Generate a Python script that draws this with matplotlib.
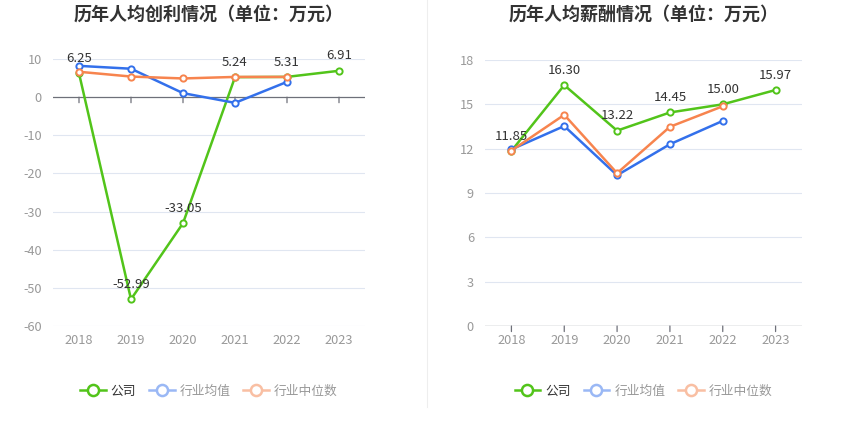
import matplotlib
matplotlib.use("Agg")
import matplotlib.pyplot as plt
from matplotlib.lines import Line2D

plt.rcParams['font.family'] = ['Noto Sans CJK SC', 'DejaVu Sans']
plt.rcParams['axes.unicode_minus'] = False

years = ['2018', '2019', '2020', '2021', '2022', '2023']

# 历年人均创利
profit_company = [6.25, -52.99, -33.05, 5.24, 5.31, 6.91]
profit_mean = [8.2, 7.45, 1.05, -1.5, 4.0]
profit_median = [6.65, 5.4, 4.9, 5.3, 5.3]

# 历年人均薪酬
salary_company = [11.85, 16.30, 13.22, 14.45, 15.00, 15.97]
salary_mean = [11.95, 13.53, 10.2, 12.3, 13.88]
salary_median = [11.87, 14.29, 10.34, 13.48, 14.87]

series_names = ['公司', '行业均值', '行业中位数']
GREEN = '#52c41a'
BLUE = '#3370eb'
ORANGE = '#f7844e'
LEG_COLORS = [GREEN, '#9ab8f5', '#f9bfa3']
LEG_TEXT = ['#333333', '#999999', '#999999']
GRID = '#e0e6f1'
AXIS = '#6e7079'

fig = plt.figure(figsize=(8.5, 4.36), dpi=100)
fig.patch.set_facecolor('white')


def draw(rect, title, company, mean, median, ylim, yticks):
    ax = fig.add_axes(rect)
    x = list(range(len(years)))
    mk = dict(marker='o', markersize=4.5, markerfacecolor='white', markeredgewidth=1.4, linewidth=1.8)
    ax.plot(x, company, color=GREEN, zorder=3, **mk)
    ax.plot(x[:len(mean)], mean, color=BLUE, zorder=4, **mk)
    ax.plot(x[:len(median)], median, color=ORANGE, zorder=5, **mk)
    for i, v in enumerate(company):
        ax.annotate('{:.2f}'.format(v), (i, v), xytext=(0, 6), textcoords='offset points',
                    ha='center', va='bottom', fontsize=9.5, color='#333333', zorder=6)
    ax.set_xlim(-0.5, len(years) - 0.5)
    ax.set_ylim(*ylim)
    ax.set_yticks(yticks)
    ax.set_xticks(x)
    ax.set_xticklabels(years)
    for t in yticks:
        if t != 0:
            ax.axhline(t, color=GRID, linewidth=0.8, zorder=1)
    ax.axhline(0, color=AXIS, linewidth=0.9, zorder=2)
    # tick marks hanging off the zero line
    for i in x:
        ax.annotate('', xy=(i, 0), xytext=(0, -4), textcoords='offset points',
                    arrowprops=dict(arrowstyle='-', color=AXIS, lw=0.9, shrinkA=0, shrinkB=0))
    for s in ax.spines.values():
        s.set_visible(False)
    ax.tick_params(axis='both', length=0, labelsize=9.2, labelcolor='#999999')
    ax.tick_params(axis='y', pad=8)
    ax.tick_params(axis='x', pad=6)
    cx = rect[0] + rect[2] / 2
    fig.text(cx, (436 - 14) / 436, title, ha='center', va='center', fontsize=13,
             fontweight='bold', color='#333333')
    handles = [Line2D([0], [0], color=c, marker='o', markersize=8, markerfacecolor='white',
                      markeredgewidth=1.8, linewidth=1.8) for c in LEG_COLORS]
    leg = fig.legend(handles, series_names, loc='center', bbox_to_anchor=(cx, 45 / 436), ncol=3,
                     frameon=False, fontsize=9.2, handlelength=2.0, handletextpad=0.4, columnspacing=1.0)
    for t, c in zip(leg.get_texts(), LEG_TEXT):
        t.set_color(c)
    return ax


draw([53 / 850, 110 / 436, 312 / 850, 267 / 436], '历年人均创利情况（单位：万元）',
     profit_company, profit_mean, profit_median, (-60, 10), list(range(-60, 11, 10)))
draw([485 / 850, 110 / 436, 317 / 850, 266 / 436], '历年人均薪酬情况（单位：万元）',
     salary_company, salary_mean, salary_median, (0, 18), list(range(0, 19, 3)))

fig.add_artist(Line2D([427 / 850, 427 / 850], [29 / 436, 1.0], color='#eeeeee', linewidth=0.8))

fig.savefig('out.png', dpi=100, facecolor='white')
